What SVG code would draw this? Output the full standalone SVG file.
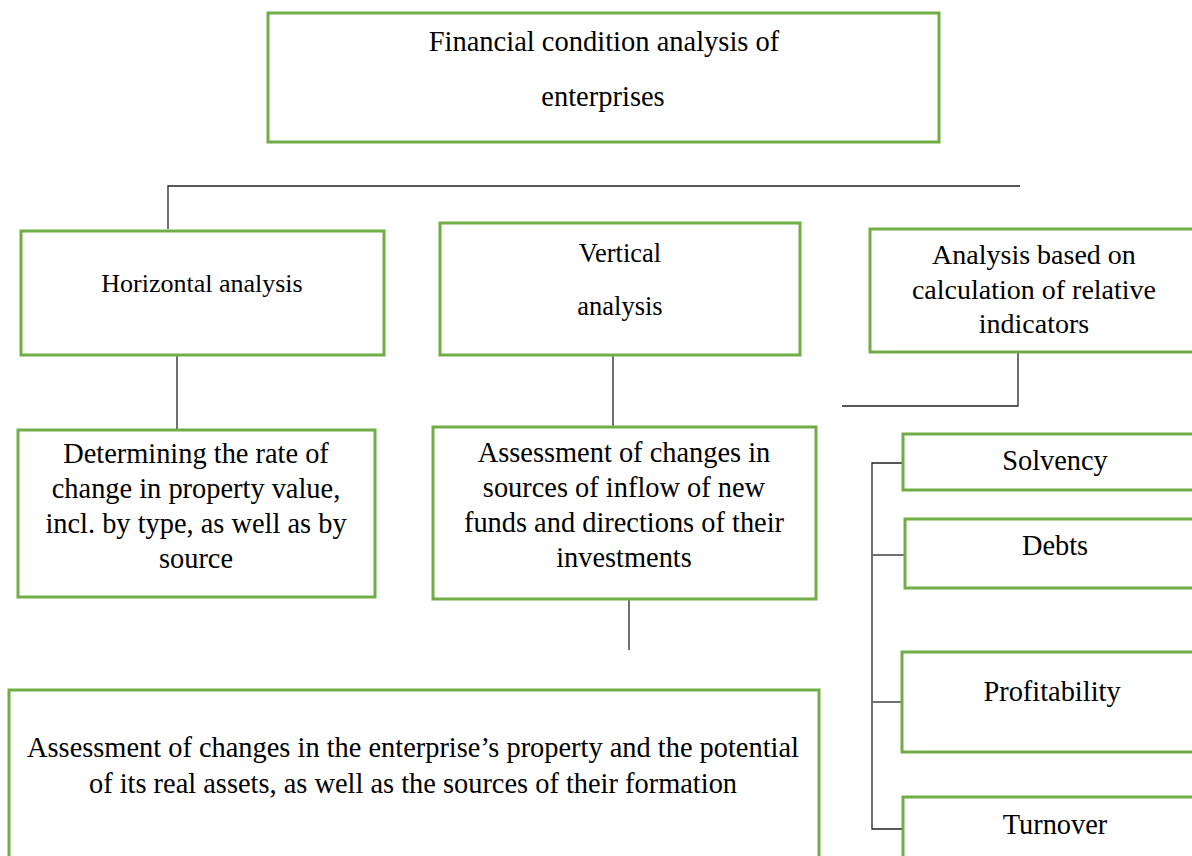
<svg xmlns="http://www.w3.org/2000/svg" width="1192" height="856" viewBox="0 0 1192 856">
<style>
.box{fill:#fff;stroke:#70AD47;stroke-width:3}
.t{font-family:"Liberation Serif","Times New Roman",serif;font-size:28.4px;fill:#000;text-anchor:middle}
.c{fill:none;stroke:#222;stroke-width:1.3}
</style>
<rect width="1192" height="856" fill="#fff"/>
<g id="connectors">
<path class="c" d="M168 229V186H1020"/>
<path class="c" d="M177 355V430"/>
<path class="c" d="M613 355V427"/>
<path class="c" d="M629 600V650"/>
<path class="c" d="M1018 352V406H842"/>
<path class="c" d="M903 463H872V829H903"/>
<path class="c" d="M873 555H905"/>
<path class="c" d="M873 702H902"/>
</g>
<g id="root">
<rect class="box" x="268" y="13" width="671" height="129"/>
<text class="t" x="604" y="51" style="font-size:28.5px">Financial condition analysis of</text>
<text class="t" x="603" y="106" style="font-size:28.5px">enterprises</text>
</g>
<g id="horizontal">
<rect class="box" x="21" y="231" width="363" height="124"/>
<text class="t" x="202" y="292" style="font-size:26px">Horizontal analysis</text>
</g>
<g id="vertical">
<rect class="box" x="440" y="223" width="360" height="132"/>
<text class="t" x="620" y="262" style="font-size:26.5px">Vertical</text>
<text class="t" x="620" y="315" style="font-size:26.5px">analysis</text>
</g>
<g id="relative">
<rect class="box" x="870" y="229" width="340" height="123"/>
<text class="t" x="1034" y="264" style="font-size:28px">Analysis based on</text>
<text class="t" x="1034" y="299" style="font-size:28px">calculation of relative</text>
<text class="t" x="1034" y="333" style="font-size:28px">indicators</text>
</g>
<g id="determining">
<rect class="box" x="18" y="430" width="357" height="167"/>
<text class="t" x="196" y="463">Determining the rate of</text>
<text class="t" x="196" y="498">change in property value,</text>
<text class="t" x="196" y="533">incl. by type, as well as by</text>
<text class="t" x="196" y="568">source</text>
</g>
<g id="assessment">
<rect class="box" x="433" y="427" width="383" height="172"/>
<text class="t" x="624" y="462">Assessment of changes in</text>
<text class="t" x="624" y="497">sources of inflow of new</text>
<text class="t" x="624" y="532">funds and directions of their</text>
<text class="t" x="624" y="567">investments</text>
</g>
<g id="property">
<rect class="box" x="9" y="690" width="810" height="180"/>
<text class="t" x="413" y="757">Assessment of changes in the enterprise’s property and the potential</text>
<text class="t" x="413" y="793">of its real assets, as well as the sources of their formation</text>
</g>
<g id="solvency">
<rect class="box" x="903" y="434" width="300" height="56"/>
<text class="t" x="1055" y="470">Solvency</text>
</g>
<g id="debts">
<rect class="box" x="905" y="519" width="300" height="69"/>
<text class="t" x="1055" y="555">Debts</text>
</g>
<g id="profitability">
<rect class="box" x="902" y="652" width="300" height="100"/>
<text class="t" x="1052" y="701">Profitability</text>
</g>
<g id="turnover">
<rect class="box" x="903" y="797" width="300" height="80"/>
<text class="t" x="1055" y="834">Turnover</text>
</g>
</svg>
